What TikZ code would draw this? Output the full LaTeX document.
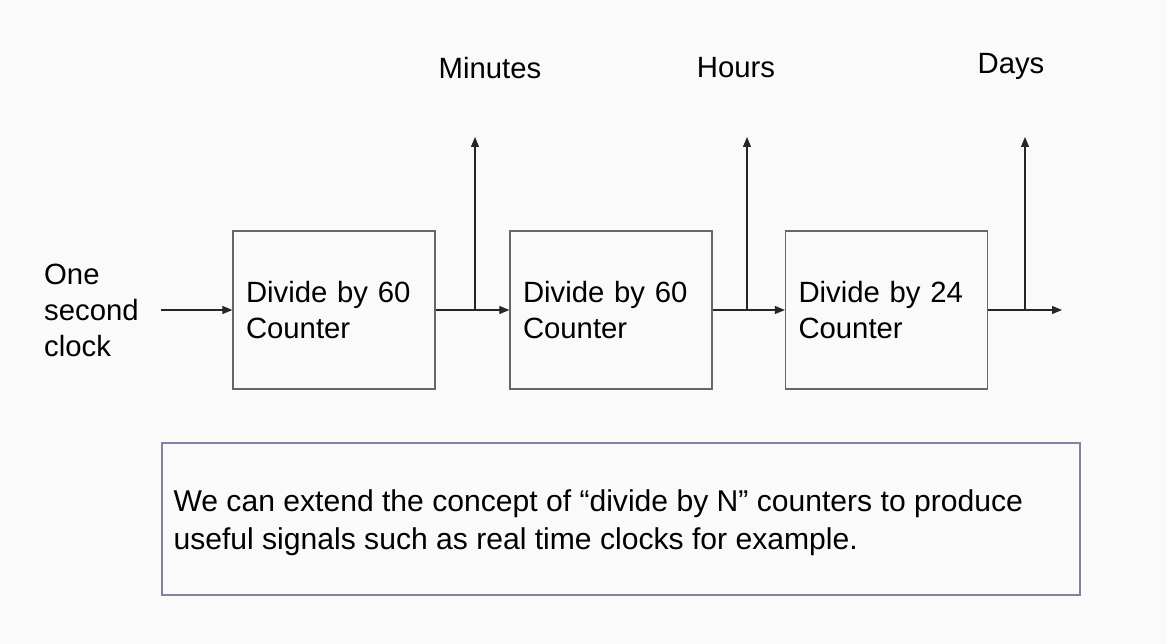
\documentclass[tikz,border=0pt]{standalone}
\usepackage{fontspec}
\setmainfont{Liberation Sans}
\usetikzlibrary{positioning,arrows.meta,calc}
\definecolor{bgcol}{HTML}{FAFAFA}
\definecolor{notecol}{HTML}{8282A8}

\begin{document}
\begin{tikzpicture}[
    x=1pt, y=-1pt,
    counter/.style={
        rectangle,
        draw=black!60,
        line width=1.3pt,
        text width=176pt,
        inner xsep=13pt,
        minimum height=158pt,
        align=left,
        font=\fontsize{29.3}{36}\selectfont
    },
    label/.style={font=\fontsize{29.3}{36}\selectfont, inner sep=0pt},
    wire/.style={draw=black!85, line width=1.1pt},
    >={Triangle[length=10pt,width=8pt]}
]
\useasboundingbox[fill=bgcol] (0,0) rectangle (1167,644);

% input clock
\node[label, align=left, anchor=west] (clk) at (44,310) {One\\second\\clock};

% counter chain
\node[counter] (c1) at (334,310) {Divide by 60\\Counter};
\node[counter] (c2) at (611,310) {Divide by 60\\Counter};
\node[counter] (c3) at (886.5,310) {Divide by 24\\Counter};

\draw[wire,->] ([xshift=22pt]clk.east) -- (c1.west);
\draw[wire,->] (c1.east) -- (c2.west);
\draw[wire,->] (c2.east) -- (c3.west);
\coordinate (out) at (1062,310);
\draw[wire,->] (c3.east) -- (out);

% taps
\coordinate (m0) at (475,310);
\coordinate (m1) at (475,137);
\coordinate (h0) at (747,310);
\coordinate (h1) at (747,137);
\coordinate (d0) at (1025,310);
\coordinate (d1) at (1025,137);
\draw[wire,->] (m0) -- (m1);
\draw[wire,->] (h0) -- (h1);
\draw[wire,->] (d0) -- (d1);

\node[label] (minutes) at (490,68) {Minutes};
\node[label] (hours) at (736,68) {Hours};
\node[label] (days) at (1011,66) {Days};

% note
\node[draw=notecol, line width=1.3pt, minimum width=918pt, minimum height=152pt,
      inner sep=0pt] (note) at (621,519) {};
\node[label, align=left, anchor=west, font=\fontsize{30.1}{38}\selectfont]
    (notetxt) at ([xshift=12pt,yshift=-4pt]note.west)
    {We can extend the concept of “divide by N” counters to produce\\
     useful signals such as real time clocks for example.};
\end{tikzpicture}
\end{document}
